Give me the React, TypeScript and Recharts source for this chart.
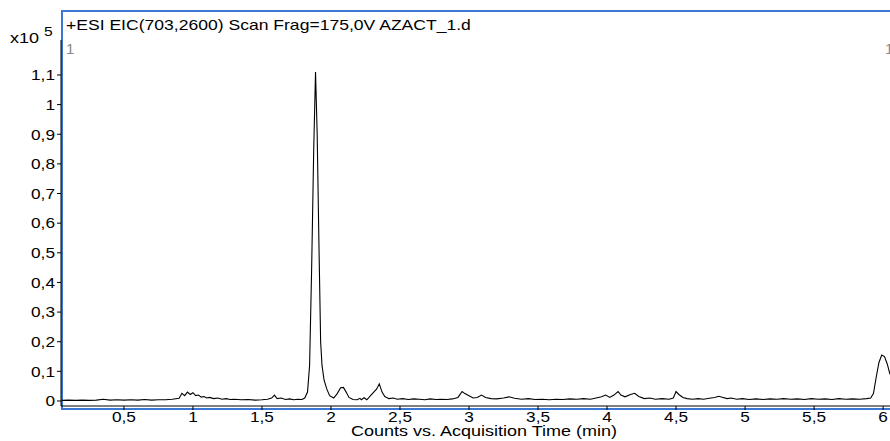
import { LineChart, Line, XAxis, YAxis } from 'recharts';

// acquisition time (min)
const times = [
  0.05, 0.1, 0.15, 0.2, 0.25, 0.3, 0.35, 0.4, 0.45, 0.5,
  0.55, 0.6, 0.65, 0.7, 0.75, 0.8, 0.85, 0.9, 0.92, 0.94,
  0.96, 0.98, 1.0, 1.02, 1.04, 1.06, 1.08, 1.1, 1.12, 1.15,
  1.18, 1.21, 1.24, 1.27, 1.3, 1.35, 1.4, 1.45, 1.5, 1.54,
  1.57, 1.59, 1.61, 1.64, 1.67, 1.7, 1.73, 1.76, 1.79, 1.81,
  1.83, 1.845, 1.86, 1.875, 1.888, 1.9, 1.912, 1.925, 1.935, 1.95,
  1.97, 1.99, 2.02, 2.045, 2.07, 2.09, 2.11, 2.13, 2.16, 2.19,
  2.21, 2.22, 2.24, 2.26, 2.29, 2.31, 2.33, 2.35, 2.37, 2.39,
  2.42, 2.45, 2.48, 2.52, 2.56, 2.6, 2.64, 2.68, 2.72, 2.76,
  2.8, 2.84, 2.88, 2.92, 2.95, 2.97, 3.0, 3.03, 3.06, 3.09,
  3.12, 3.16, 3.2, 3.25, 3.29, 3.33, 3.38, 3.43, 3.48, 3.53,
  3.58, 3.63, 3.68, 3.73, 3.78, 3.83, 3.88, 3.92, 3.96, 3.99,
  4.02, 4.05, 4.08, 4.1, 4.13, 4.17, 4.2, 4.23, 4.27, 4.31,
  4.35, 4.4, 4.45, 4.48, 4.5, 4.52, 4.55, 4.58, 4.62, 4.66,
  4.7, 4.74, 4.78, 4.81, 4.84, 4.87, 4.9, 4.94, 4.98, 5.03,
  5.08, 5.13, 5.18, 5.23, 5.28, 5.33, 5.38, 5.43, 5.48, 5.53,
  5.58, 5.63, 5.68, 5.73, 5.78, 5.83, 5.88, 5.91, 5.93, 5.95,
  5.97, 5.99, 6.01, 6.03, 6.05,
];

// counts, x10^5
const counts = [
  0.002, 0.003, 0.002, 0.003, 0.002, 0.003, 0.006, 0.003, 0.004, 0.003,
  0.004, 0.003, 0.005, 0.003, 0.004, 0.004, 0.006, 0.009, 0.026, 0.018,
  0.03, 0.022, 0.028, 0.018, 0.02, 0.013, 0.015, 0.01, 0.012, 0.008,
  0.01, 0.006, 0.008, 0.005, 0.006, 0.004, 0.005, 0.003, 0.004, 0.006,
  0.01, 0.02, 0.008, 0.01, 0.005, 0.007, 0.004, 0.006, 0.005, 0.01,
  0.03, 0.12, 0.45, 0.85, 1.11, 0.9, 0.55, 0.2, 0.12, 0.07,
  0.04, 0.018, 0.01, 0.025, 0.045, 0.046, 0.03, 0.012, 0.005, 0.004,
  0.009, 0.004, 0.011, 0.004, 0.02, 0.03, 0.04, 0.058, 0.03, 0.015,
  0.008, 0.01, 0.006, 0.008, 0.005, 0.007, 0.006, 0.004, 0.007, 0.005,
  0.006, 0.005, 0.007, 0.012, 0.032, 0.025, 0.018, 0.01, 0.012, 0.02,
  0.012, 0.008, 0.007, 0.01, 0.014, 0.009, 0.006, 0.008, 0.005, 0.006,
  0.004, 0.006, 0.005, 0.007, 0.006, 0.008, 0.006, 0.01, 0.014, 0.02,
  0.012, 0.02, 0.032, 0.02, 0.014, 0.022, 0.026, 0.015, 0.008, 0.01,
  0.006, 0.008, 0.006, 0.01, 0.032, 0.022, 0.012, 0.008, 0.006, 0.008,
  0.006, 0.009, 0.012, 0.016, 0.012, 0.008, 0.01, 0.006, 0.008, 0.005,
  0.007, 0.005, 0.007, 0.006, 0.008, 0.006, 0.007, 0.005, 0.008, 0.006,
  0.007, 0.005, 0.008, 0.006, 0.007, 0.006, 0.008, 0.01, 0.025, 0.08,
  0.13, 0.155, 0.15, 0.125, 0.09,
];

const xTicks = [0.5, 1, 1.5, 2, 2.5, 3, 3.5, 4, 4.5, 5, 5.5, 6];
const yTicks = [0, 0.1, 0.2, 0.3, 0.4, 0.5, 0.6, 0.7, 0.8, 0.9, 1, 1.1];

const data = times.map((t, i) => ({ t, c: counts[i] }));

const font = '"Liberation Sans", Arial, sans-serif';
const comma = (v: number) => String(v).replace('.', ',');
const blue = '#3b78d4';

// the original text looks a bit stretched sideways
const XTick = (props: any) => {
  const { x, y, payload } = props;
  return (
    <g transform={`translate(${x},${y})`}>
      <text transform="scale(1.15,1)" textAnchor="middle" dy="0.71em" fontSize={15} fontFamily={font} fill="#000">
        {comma(payload.value)}
      </text>
    </g>
  );
};

const YTick = (props: any) => {
  const { x, y, payload } = props;
  return (
    <g transform={`translate(${x},${y})`}>
      <text transform="scale(1.15,1)" textAnchor="end" dy="0.355em" fontSize={15} fontFamily={font} fill="#000">
        {comma(payload.value)}
      </text>
    </g>
  );
};

const stretch = (s: number) => ({ transform: `scaleX(${s})`, transformOrigin: 'left top' });

export default function App() {
  return (
    <div style={{ position: 'absolute', left: 0, top: 0, width: 890, height: 441, overflow: 'hidden', fontFamily: font, background: '#fff' }}>
      {/* blue frame */}
      <div style={{ position: 'absolute', left: 61, top: 10, width: 840, height: 396, borderTop: `2px solid ${blue}`, borderLeft: `2px solid ${blue}`, borderBottom: `2px solid ${blue}` }} />
      <div style={{ position: 'absolute', left: 0, top: 0 }}>
        <LineChart width={890} height={441} data={data} margin={{ top: 40, right: 0, bottom: 10, left: 0 }}>
          <XAxis
            dataKey="t"
            type="number"
            domain={[0.044, 6.05]}
            allowDataOverflow
            ticks={xTicks}
            stroke="#000"
            tickSize={4}
            tickMargin={1}
            height={25}
            tick={<XTick />}
            interval={0}
          />
          <YAxis
            type="number"
            domain={[-0.0169, 1.218]}
            allowDataOverflow
            ticks={yTicks}
            stroke="#000"
            width={61}
            tickSize={4}
            tickMargin={2}
            tick={<YTick />}
            interval={0}
          />
          <Line dataKey="c" type="linear" stroke="#000" strokeWidth={1.1} dot={false} isAnimationActive={false} />
        </LineChart>
      </div>
      <div style={{ position: 'absolute', left: 66, top: 16, fontSize: 15, color: '#000', whiteSpace: 'nowrap', ...stretch(1.17) }}>
        +ESI EIC(703,2600) Scan Frag=175,0V AZACT_1.d
      </div>
      <div style={{ position: 'absolute', left: 10, top: 29, fontSize: 15, color: '#000', whiteSpace: 'nowrap', ...stretch(1.2) }}>
        x10 <span style={{ fontSize: 13, position: 'relative', top: -7 }}>5</span>
      </div>
      <div style={{ position: 'absolute', left: 66, top: 40, fontSize: 15, color: '#888' }}>1</div>
      <div style={{ position: 'absolute', left: 885, top: 40, fontSize: 15, color: '#888' }}>1</div>
      <div style={{ position: 'absolute', left: 351, top: 422, fontSize: 15, color: '#000', whiteSpace: 'nowrap', ...stretch(1.2) }}>
        Counts vs. Acquisition Time (min)
      </div>
    </div>
  );
}
